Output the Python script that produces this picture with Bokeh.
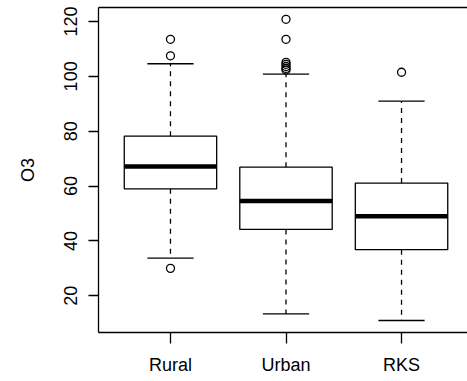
from bokeh.plotting import figure
from bokeh.models import Range1d, FixedTicker, LinearAxis, ColumnDataSource
from bokeh.embed import file_html
from bokeh.resources import INLINE

# ---- data ----
categories = ["Rural", "Urban", "RKS"]
lower_whisker = [33.7, 13.4, 11.0]
q1 = [59.0, 44.2, 36.8]
median = [67.1, 54.6, 49.0]
q3 = [78.2, 66.9, 61.1]
upper_whisker = [104.6, 100.8, 91.0]
outlier_group = ["Rural", "Rural", "Rural",
                 "Urban", "Urban", "Urban", "Urban", "Urban", "Urban", "Urban",
                 "RKS"]
outlier_value = [113.5, 107.5, 30.0,
                 120.8, 113.5, 105.1, 104.4, 103.6, 102.9, 102.3,
                 101.5]
y_ticks = [20, 40, 60, 80, 100, 120]

FONT = "Liberation Sans"
FS = "18px"
box_half = 0.4
staple_half = 0.2

pos = [i + 1 for i in range(len(categories))]
src = ColumnDataSource(dict(
    x=pos, lw=lower_whisker, q1=q1, med=median, q3=q3, uw=upper_whisker,
    bl=[p - box_half for p in pos], br=[p + box_half for p in pos],
    sl=[p - staple_half for p in pos], sr=[p + staple_half for p in pos],
))
out_src = ColumnDataSource(dict(
    x=[categories.index(g) + 1 for g in outlier_group], y=outlier_value))

p = figure(width=467, height=381, output_backend="svg", toolbar_location=None,
           x_range=Range1d(0.377, 3.571), y_range=Range1d(6.62, 125.1),
           min_border_left=98, min_border_right=0, min_border_top=7,
           min_border_bottom=49)
p.outline_line_color = None
p.background_fill_color = "white"
p.border_fill_color = "white"
p.xgrid.visible = False
p.ygrid.visible = False

# whiskers
p.segment(x0="x", y0="q3", x1="x", y1="uw", source=src, line_color="black",
          line_width=1.3, line_dash="5 5")
p.segment(x0="x", y0="q1", x1="x", y1="lw", source=src, line_color="black",
          line_width=1.3, line_dash="5 5")
# staples
p.segment(x0="sl", y0="uw", x1="sr", y1="uw", source=src, line_color="black", line_width=1.3)
p.segment(x0="sl", y0="lw", x1="sr", y1="lw", source=src, line_color="black", line_width=1.3)
# boxes
p.quad(left="bl", right="br", bottom="q1", top="q3", source=src,
       fill_color="white", line_color="black", line_width=1.3)
# medians
p.segment(x0="bl", y0="med", x1="br", y1="med", source=src, line_color="black",
          line_width=4.5, line_cap="butt")
# outliers
p.scatter(x="x", y="y", source=out_src, marker="circle", size=8,
          fill_color=None, line_color="black", line_width=1.3)

# axes styling
xa = p.xaxis[0]
xa.ticker = FixedTicker(ticks=pos)
xa.major_label_overrides = {p_: c for p_, c in zip(pos, categories)}
ya = p.yaxis[0]
ya.ticker = FixedTicker(ticks=y_ticks)
ya.major_label_orientation = "vertical"
ya.axis_label = "O3"

for ax in (xa, ya):
    ax.axis_line_color = "black"
    ax.axis_line_width = 1.3
    ax.major_tick_line_color = "black"
    ax.major_tick_line_width = 1.3
    ax.major_tick_in = 0
    ax.minor_tick_line_color = None
    ax.major_label_text_font = FONT
    ax.major_label_text_font_size = FS
    ax.major_label_text_color = "black"
    ax.axis_label_text_font = FONT
    ax.axis_label_text_font_size = FS
    ax.axis_label_text_font_style = "normal"
    ax.axis_label_text_color = "black"

xa.major_tick_out = 11
xa.major_label_standoff = 11
ya.major_tick_out = 10
ya.major_label_standoff = 11
ya.axis_label_standoff = 24

# top border
top = LinearAxis(ticker=FixedTicker(ticks=[]), major_tick_out=0, major_tick_in=0,
                 minor_tick_line_color=None, major_label_text_font_size="0px",
                 major_label_standoff=0, axis_line_color="black", axis_line_width=1.3)
p.add_layout(top, "above")

open("out.html", "w").write(file_html(p, INLINE))
